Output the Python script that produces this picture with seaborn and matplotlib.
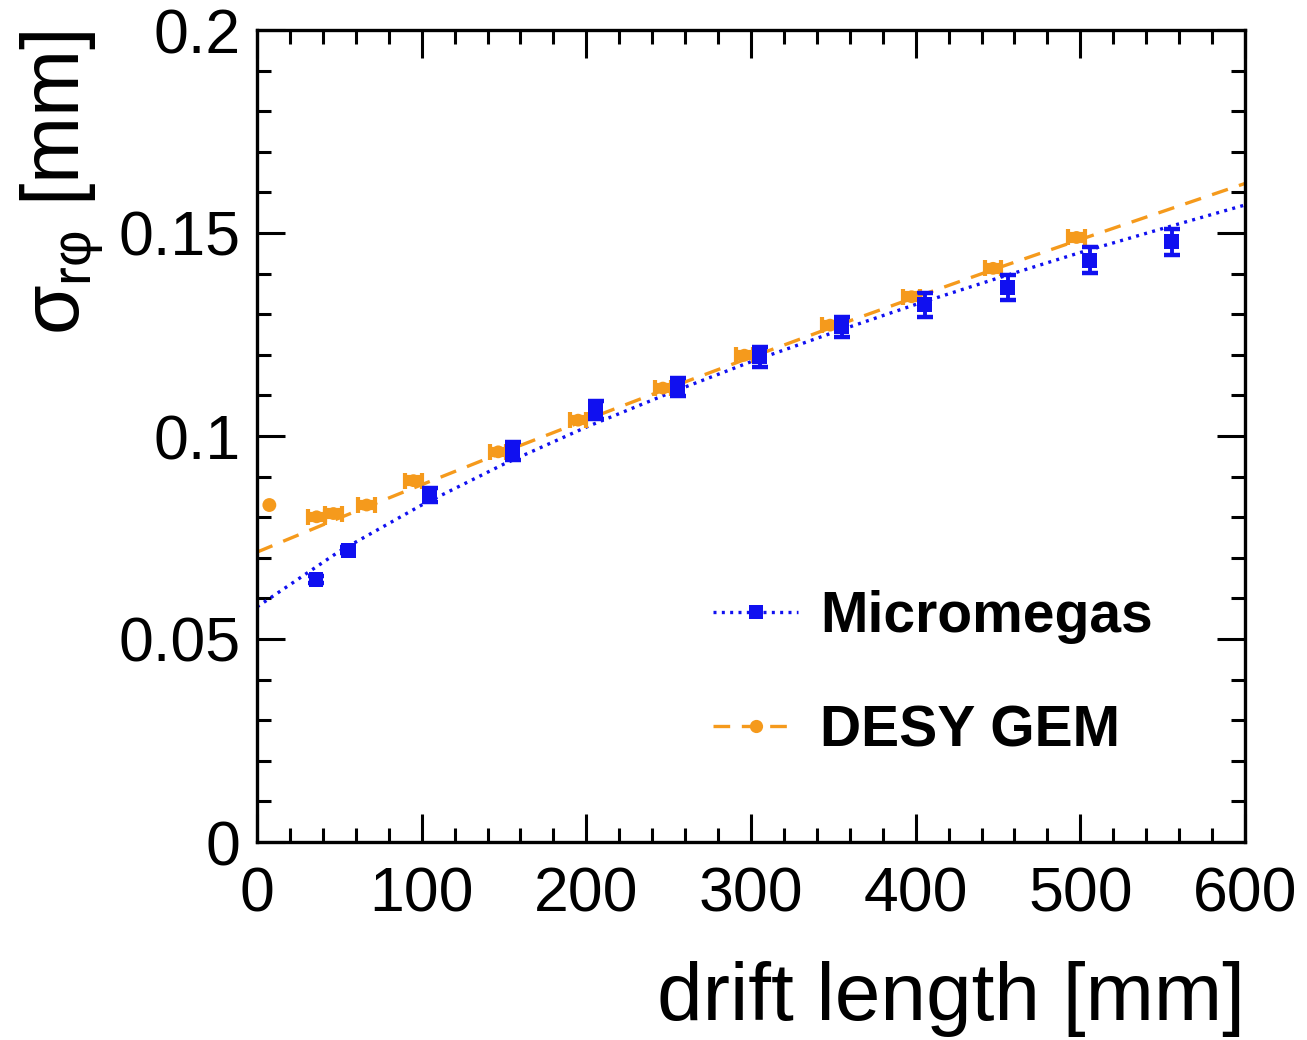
import numpy as np
import pandas as pd
import matplotlib
matplotlib.use("Agg")
import matplotlib.pyplot as plt
import seaborn as sns
from matplotlib.lines import Line2D
from matplotlib.ticker import MultipleLocator

# ---------------- data ----------------
mm_z = [35.8, 55.5, 105, 155.3, 205.6, 255.4, 305.4, 355.0, 405.6, 455.8, 505.8, 555.4]
mm_sigma = [0.0647, 0.0719, 0.0855, 0.0964, 0.1064, 0.1121, 0.1195, 0.1269, 0.1323, 0.1366, 0.1433, 0.1479]
mm_err = [0.0008, 0.0008, 0.0017, 0.0022, 0.0023, 0.0023, 0.0025, 0.0025, 0.0030, 0.0030, 0.0032, 0.0032]

gem_z = [36.2, 46.4, 66.6, 95.0, 146.5, 195.0, 246.5, 296.0, 348.0, 397.5, 447.0, 497.7]
gem_sigma = [0.0801, 0.0809, 0.0830, 0.0890, 0.0961, 0.1039, 0.1118, 0.1199, 0.1273, 0.1343, 0.1413, 0.1489]
gem_zerr = [5, 5, 5, 5, 5, 5, 5, 5, 5, 5, 5, 5]
gem_err = [0.0008, 0.0008, 0.0008, 0.0008, 0.0008, 0.0008, 0.0008, 0.0008, 0.0008, 0.0008, 0.0008, 0.0008]

gem_extra_z = [7.5]
gem_extra_sigma = [0.0830]

fit_z = [0, 50, 100, 150, 200, 250, 300, 350, 400, 450, 500, 550, 600]
mm_fit = [0.0579, 0.0716, 0.0830, 0.0931, 0.1022, 0.1105, 0.1183, 0.1255, 0.1324, 0.1389, 0.1452, 0.1511, 0.1569]
gem_fit = [0.0714, 0.0798, 0.0880, 0.0961, 0.1040, 0.1118, 0.1194, 0.1269, 0.1342, 0.1414, 0.1484, 0.1553, 0.1622]

x_ticks = [0, 100, 200, 300, 400, 500, 600]
y_ticks = [0, 0.05, 0.1, 0.15, 0.2]
y_tick_labels = ["0", "0.05", "0.1", "0.15", "0.2"]

labels = ["Micromegas", "DESY GEM"]

# ---------------- style ----------------
sns.set_theme(style="ticks")
plt.rcParams["font.family"] = ["Liberation Sans", "DejaVu Sans"]
plt.rcParams["mathtext.fontset"] = "custom"
plt.rcParams["mathtext.rm"] = "Liberation Sans"
plt.rcParams["mathtext.it"] = "Liberation Sans"
for k in ["text.color", "axes.labelcolor", "xtick.color", "ytick.color", "axes.edgecolor"]:
    plt.rcParams[k] = "black"

BLUE = "#1010f0"
ORANGE = "#f59a1c"

fig = plt.figure(figsize=(13.07, 10.40), dpi=100)
ax = fig.add_axes([257 / 1307, 1 - 842 / 1040, (1245 - 257) / 1307, (842 - 30) / 1040])

fit_df = pd.DataFrame({"z": fit_z, "mm": mm_fit, "gem": gem_fit})

# fit curves
sns.lineplot(data=fit_df, x="z", y="gem", ax=ax, color=ORANGE, lw=2.4,
             linestyle=(0, (5, 3.5)), legend=False)
sns.lineplot(data=fit_df, x="z", y="mm", ax=ax, color=BLUE, lw=2.4,
             linestyle=(0, (0.9, 1.6)), legend=False)

# error bars
ax.errorbar(gem_z, gem_sigma, xerr=gem_zerr, yerr=gem_err, fmt="none",
            ecolor=ORANGE, elinewidth=2.8, capsize=5.5, capthick=3, zorder=3)
ax.errorbar(mm_z, mm_sigma, yerr=mm_err, fmt="none",
            ecolor=BLUE, elinewidth=2.8, capsize=6, capthick=3.2, zorder=4)

# markers
sns.scatterplot(x=gem_z, y=gem_sigma, ax=ax, color=ORANGE, marker="o", s=85,
                edgecolor="none", zorder=5)
sns.scatterplot(x=gem_extra_z, y=gem_extra_sigma, ax=ax, color=ORANGE, marker="o",
                s=100, edgecolor="none", zorder=5)
sns.scatterplot(x=mm_z, y=mm_sigma, ax=ax, color=BLUE, marker="s", s=115,
                edgecolor="none", zorder=6)

# axes
ax.set_xlim(0, 600)
ax.set_ylim(0, 0.2)
ax.set_xticks(x_ticks)
ax.set_yticks(y_ticks)
ax.set_yticklabels(y_tick_labels)
ax.xaxis.set_minor_locator(MultipleLocator(20))
ax.yaxis.set_minor_locator(MultipleLocator(0.01))
ax.tick_params(which="both", direction="in", top=True, right=True, width=2.2,
               labelsize=45, color="black", labelcolor="black")
ax.tick_params(axis="x", which="major", length=20, pad=17)
ax.tick_params(axis="y", which="major", length=20, pad=12)
ax.tick_params(which="minor", length=10)
for sp in ax.spines.values():
    sp.set_linewidth(2.4)
    sp.set_color("black")

ax.set_xlabel("drift length [mm]", fontsize=59, loc="right", labelpad=26)
ax.set_ylabel(r"$\sigma_{r\varphi}$ [mm]", fontsize=58, loc="top", labelpad=8)

handles = [
    Line2D([], [], color=BLUE, lw=2.4, linestyle=(0, (0.9, 1.6)), marker="s",
           markersize=10.5, markeredgewidth=0),
    Line2D([], [], color=ORANGE, lw=2.4, linestyle=(0, (5, 3.5)), marker="o",
           markersize=9.5, markeredgewidth=0),
]
leg = ax.legend(handles, labels, loc="center left",
                bbox_to_anchor=(713 / 1307, 1 - 674 / 1040),
                bbox_transform=fig.transFigure, frameon=False,
                prop={"size": 41, "weight": "bold"}, handlelength=1.5,
                handletextpad=0.38, labelspacing=1.06, borderpad=0,
                borderaxespad=0)

fig.savefig("out.png", dpi=100)
